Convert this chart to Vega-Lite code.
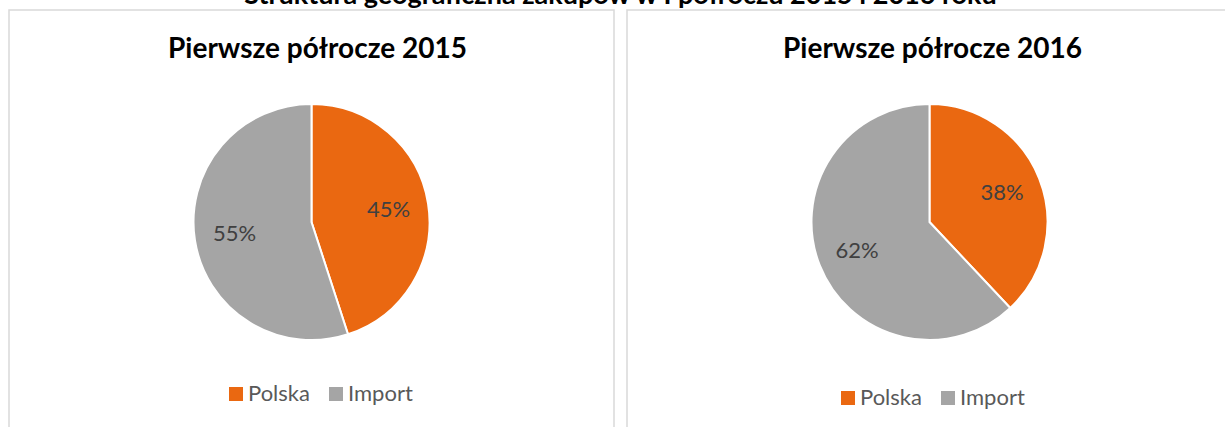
{
  "$schema": "https://vega.github.io/schema/vega-lite/v6.json",
  "padding": {"left": 8, "top": -18, "right": 0, "bottom": 0},
  "background": "#ffffff",
  "title": {
    "text": "Struktura geograficzna zakupów w I półroczu 2015 i 2016 roku",
    "font": "Lato", "fontSize": 27, "fontWeight": "bold", "color": "#000000",
    "anchor": "middle", "offset": -1
  },
  "config": {
    "view": {"stroke": "#d9d9d9", "strokeWidth": 1.5},
    "font": "Lato"
  },
  "spacing": 11,
  "resolve": {"scale": {"color": "independent", "theta": "independent"}, "legend": {"color": "independent"}},
  "hconcat": [
    {
      "width": 605, "height": 424,
      "view": {"stroke": "#d9d9d9", "strokeWidth": 1.5},
      "title": {"text": "Pierwsze półrocze 2015", "font": "Lato", "fontSize": 28, "fontWeight": "bold", "color": "#000000", "offset": -54, "anchor": "middle", "dx": 6},
      "data": {"values": [
        {"kategoria": "Polska", "udzial": 0.45, "kolejnosc": 1},
        {"kategoria": "Import", "udzial": 0.55, "kolejnosc": 2}
      ]},
      "encoding": {
        "theta": {"field": "udzial", "type": "quantitative", "stack": true},
        "order": {"field": "kolejnosc", "type": "quantitative"}
      },
      "layer": [
        {
          "mark": {"type": "arc", "outerRadius": 118, "stroke": "#ffffff", "strokeWidth": 2},
          "encoding": {
            "color": {
              "field": "kategoria", "type": "nominal",
              "scale": {"domain": ["Polska", "Import"], "range": ["#EA6811", "#A5A5A5"]},
              "sort": ["Polska", "Import"],
              "legend": {"title": null, "orient": "none", "direction": "horizontal", "legendX": 216, "legendY": 373,
                "symbolType": "square", "symbolSize": 196, "symbolStrokeWidth": 0, "labelFontSize": 22, "labelColor": "#595959", "labelFont": "Lato", "columnPadding": 15, "labelOffset": 1}
            }
          }
        },
        {
          "mark": {"type": "text", "radius": 78, "fontSize": 22, "color": "#404040", "font": "Lato"},
          "encoding": {
            "text": {"field": "udzial", "type": "quantitative", "format": ".0%"}
          }
        }
      ]
    },
    {
      "width": 605, "height": 424,
      "view": {"stroke": "#d9d9d9", "strokeWidth": 1.5},
      "title": {"text": "Pierwsze półrocze 2016", "font": "Lato", "fontSize": 28, "fontWeight": "bold", "color": "#000000", "offset": -54, "anchor": "middle", "dx": 3},
      "data": {"values": [
        {"kategoria": "Polska", "udzial": 0.38, "kolejnosc": 1},
        {"kategoria": "Import", "udzial": 0.62, "kolejnosc": 2}
      ]},
      "encoding": {
        "theta": {"field": "udzial", "type": "quantitative", "stack": true},
        "order": {"field": "kolejnosc", "type": "quantitative"}
      },
      "layer": [
        {
          "mark": {"type": "arc", "outerRadius": 118, "stroke": "#ffffff", "strokeWidth": 2},
          "encoding": {
            "color": {
              "field": "kategoria", "type": "nominal",
              "scale": {"domain": ["Polska", "Import"], "range": ["#EA6811", "#A5A5A5"]},
              "sort": ["Polska", "Import"],
              "legend": {"title": null, "orient": "none", "direction": "horizontal", "legendX": 210, "legendY": 377,
                "symbolType": "square", "symbolSize": 196, "symbolStrokeWidth": 0, "labelFontSize": 22, "labelColor": "#595959", "labelFont": "Lato", "columnPadding": 15, "labelOffset": 1}
            }
          }
        },
        {
          "mark": {"type": "text", "radius": 78, "fontSize": 22, "color": "#404040", "font": "Lato"},
          "encoding": {
            "text": {"field": "udzial", "type": "quantitative", "format": ".0%"}
          }
        }
      ]
    }
  ]
}
